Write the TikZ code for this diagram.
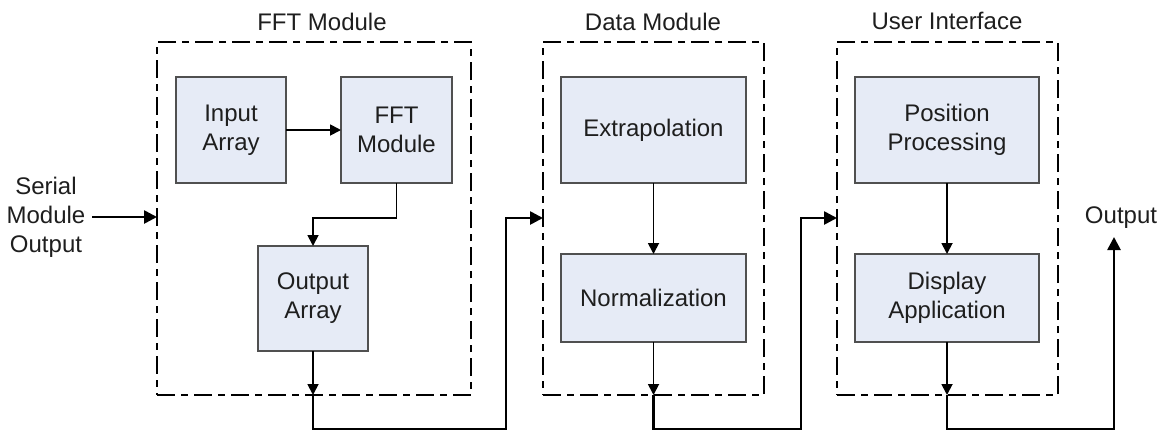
\documentclass[tikz,border=0pt]{standalone}
\usepackage{fontspec}
\setmainfont{Liberation Sans}
\usetikzlibrary{arrows.meta}
\definecolor{boxfill}{RGB}{230,235,246}
\definecolor{boxline}{RGB}{80,80,80}
\definecolor{txtcol}{RGB}{30,30,30}
\tikzset{
  x=1pt, y=-1pt,
  txt/.style={font=\fontsize{24}{29}\selectfont, text=txtcol, align=center, inner sep=0pt},
  block/.style={txt, draw=boxline, fill=boxfill, line width=2pt, inner sep=0pt, outer sep=0pt},
  container/.style={draw=black, line width=2.7pt, dash pattern=on 18pt off 6pt on 7pt off 6pt, inner sep=0pt, outer sep=0pt},
  thinarrow/.style={line width=1.8pt, -{Triangle[length=11pt,width=11pt]}},
  thickarrow/.style={line width=2.6pt, -{Triangle[length=13pt,width=13pt]}},
}
\begin{document}
\begin{tikzpicture}
\useasboundingbox (0,0) rectangle (1164,432);
% containers
\node[container, minimum width=314pt, minimum height=353pt] (fftc) at (314,218.5) {};
\node[container, minimum width=221pt, minimum height=353pt] (datac) at (653.5,218.5) {};
\node[container, minimum width=221pt, minimum height=353pt] (uic) at (947.5,218.5) {};
% titles
\node[txt] (t1) at (322,22) {FFT Module};
\node[txt] (t2) at (653,22) {Data Module};
\node[txt] (t3) at (947,21) {User Interface};
% blocks
\node[block, minimum width=110pt, minimum height=106pt] (in) at (231,130) {Input\\Array};
\node[block, minimum width=111pt, minimum height=106pt] (fft) at (396.5,130) {FFT\\Module};
\node[block, minimum width=110pt, minimum height=105pt] (outarr) at (313,298.5) {Output\\Array};
\node[block, minimum width=185pt, minimum height=106pt] (extrap) at (653.5,130) {Extrapolation};
\node[block, minimum width=185pt, minimum height=88pt] (norm) at (653.5,298) {Normalization};
\node[block, minimum width=184pt, minimum height=106pt] (pos) at (947,130) {Position\\Processing};
\node[block, minimum width=184pt, minimum height=88pt] (disp) at (947,298) {Display\\Application};
% side texts
\node[txt] (serial) at (46,217) {Serial\\Module\\Output};
\node[txt] (output) at (1121,218) {Output};
% helper coordinates
\coordinate (s0) at (92,217);
\coordinate (o1) at (313,395);
\coordinate (o2) at (653.5,395);
\coordinate (o3) at (947,395);
\coordinate (b1) at (313,429);
\coordinate (b2) at (506,429);
\coordinate (b3) at (653.5,429);
\coordinate (b4) at (801,429);
\coordinate (b5) at (947,429);
\coordinate (b6) at (1114,429);
\coordinate (up1) at (506,218);
\coordinate (up2) at (801,218);
\coordinate (outtip) at (1114,237);
\coordinate (fftbend) at (396.5,218);
% connectors
\draw[line width=2.6pt, -{Triangle[length=13pt,width=13pt]}] (s0) -- (fftc.west |- s0);
\draw[thinarrow] (in.east) -- (fft.west);
\draw[thinarrow] (fft.south) -- (fftbend) -| (outarr.north);
\draw[thinarrow] (outarr.south) -- (o1);
\draw[thinarrow] (extrap.south) -- (norm.north);
\draw[thinarrow] (norm.south) -- (o2);
\draw[thinarrow] (pos.south) -- (disp.north);
\draw[thinarrow] (disp.south) -- (o3);
\draw[thickarrow] (o1) -- (b1) -- (b2) -- (up1) -- (datac.west |- up1);
\draw[thickarrow] (o2) -- (b3) -- (b4) -- (up2) -- (uic.west |- up2);
\draw[thickarrow] (o3) -- (b5) -- (b6) -- (outtip);
\end{tikzpicture}
\end{document}
